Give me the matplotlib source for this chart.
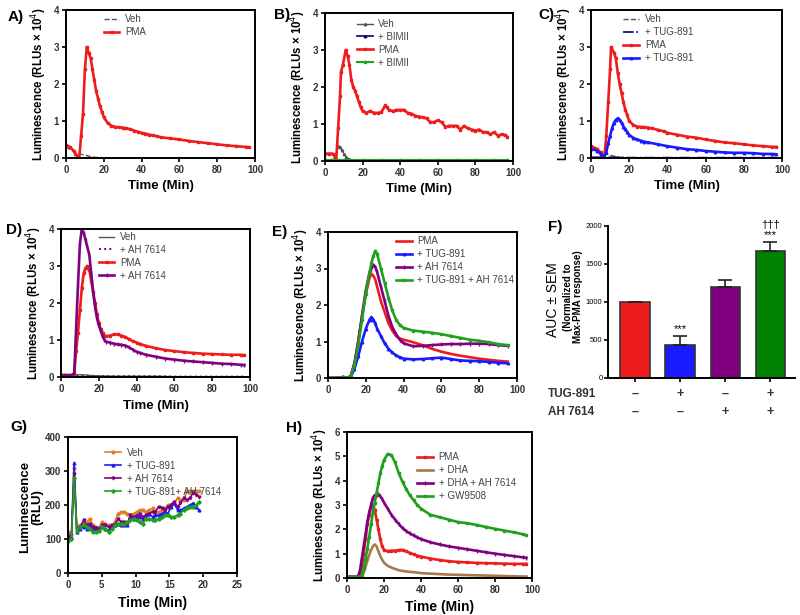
import matplotlib
matplotlib.use("Agg")
import matplotlib.pyplot as plt
import numpy as np

plt.rcParams['font.family'] = ['Liberation Sans', 'DejaVu Sans']

# ---------------- DATA ----------------
# Panel A
a_t_pma = [0, 2, 4, 5, 6, 7, 8, 9, 10, 11, 12, 13, 14, 15, 16, 17, 18, 19, 20, 22, 24, 26, 28, 30, 32, 34, 36, 38, 40, 42, 44, 46, 48, 50, 55, 60, 65, 70, 75, 80, 85, 90, 95, 97]
a_pma = [0.35, 0.3, 0.2, 0.1, 0.05, 0.0, 0.6, 1.2, 2.4, 3.0, 2.85, 2.7, 2.4, 2.1, 1.8, 1.6, 1.4, 1.25, 1.1, 0.95, 0.87, 0.84, 0.83, 0.82, 0.8, 0.78, 0.74, 0.71, 0.68, 0.66, 0.63, 0.61, 0.59, 0.56, 0.53, 0.5, 0.46, 0.43, 0.4, 0.37, 0.34, 0.32, 0.3, 0.29]
a_t_veh = [0, 3, 6, 8, 10, 12, 15, 20, 30, 40, 50, 60, 70, 80, 90, 97]
a_veh = [0.3, 0.2, 0.1, 0.1, 0.08, 0.05, 0.02, 0.0, 0.0, 0.0, 0.0, 0.0, 0.0, 0.0, 0.0, 0.0]

# Panel B
b_t_pma = [0, 2, 4, 5, 6, 7, 8, 8.5, 9.5, 11, 12, 13, 14, 15, 16, 17, 18, 19, 20, 22, 24, 26, 28, 30, 32, 33, 34, 36, 38, 40, 42, 44, 46, 48, 50, 52, 54, 56, 58, 60, 62, 64, 66, 68, 70, 72, 74, 76, 78, 80, 82, 84, 86, 88, 90, 92, 94, 96, 97]
b_pma = [0.2, 0.2, 0.2, 0.15, 0.05, 0.9, 1.75, 2.4, 2.6, 3.0, 2.85, 2.6, 2.2, 2.0, 1.9, 1.75, 1.6, 1.45, 1.35, 1.3, 1.35, 1.3, 1.3, 1.32, 1.5, 1.45, 1.38, 1.35, 1.38, 1.38, 1.38, 1.3, 1.28, 1.22, 1.2, 1.18, 1.15, 1.05, 1.05, 1.1, 1.05, 0.92, 0.95, 0.95, 0.95, 0.85, 0.95, 0.88, 0.85, 0.82, 0.85, 0.78, 0.78, 0.72, 0.78, 0.68, 0.72, 0.7, 0.65]
b_t_veh = [0, 5, 7, 8, 9, 10, 11, 13, 15, 20, 30, 40, 50, 60, 70, 80, 90, 97]
b_veh = [0.02, 0.05, 0.4, 0.38, 0.3, 0.2, 0.12, 0.05, 0.02, 0.01, 0.0, 0.0, 0.0, 0.0, 0.0, 0.0, 0.0, 0.0]
b_t_bim = [0, 10, 20, 30, 40, 50, 60, 70, 80, 90, 97]
b_bim_veh = [0.02, 0.02, 0.02, 0.02, 0.02, 0.02, 0.02, 0.02, 0.02, 0.02, 0.02]
b_bim_pma = [0.03, 0.03, 0.03, 0.03, 0.03, 0.03, 0.03, 0.03, 0.03, 0.03, 0.03]

# Panel C
c_t_pma = [0, 3, 5, 6, 7, 8, 9, 10, 10.5, 12, 13, 14, 15, 16, 17, 18, 19, 20, 22, 24, 26, 28, 30, 32, 35, 38, 40, 45, 50, 55, 60, 65, 70, 75, 80, 85, 90, 95, 97]
c_pma = [0.32, 0.25, 0.15, 0.05, 0.02, 0.6, 1.5, 2.4, 3.0, 2.85, 2.7, 2.3, 2.0, 1.75, 1.5, 1.3, 1.15, 1.0, 0.9, 0.85, 0.84, 0.83, 0.82, 0.8, 0.76, 0.72, 0.68, 0.63, 0.58, 0.55, 0.5, 0.46, 0.42, 0.4, 0.37, 0.34, 0.32, 0.3, 0.3]
c_t_tug = [0, 3, 5, 6, 7, 8, 9, 10, 11, 12, 13, 14, 15, 16, 17, 18, 19, 20, 22, 24, 26, 28, 30, 35, 40, 45, 50, 55, 60, 65, 70, 75, 80, 85, 90, 95, 97]
c_tug = [0.25, 0.2, 0.12, 0.05, 0.05, 0.15, 0.4, 0.6, 0.8, 0.95, 1.03, 1.07, 1.03, 0.95, 0.85, 0.78, 0.7, 0.62, 0.55, 0.5, 0.47, 0.44, 0.42, 0.37, 0.32, 0.28, 0.24, 0.22, 0.19, 0.17, 0.15, 0.14, 0.14, 0.13, 0.11, 0.11, 0.1]
c_t_veh = [0, 5, 8, 12, 15, 20, 30, 40, 50, 60, 70, 80, 90, 97]
c_veh = [0.3, 0.1, 0.1, 0.05, 0.02, 0.0, 0.0, 0.0, 0.0, 0.0, 0.01, 0.0, 0.0, 0.0]
c_veh_tug = [0.02, 0.02, 0.02, 0.02, 0.02, 0.01, 0.01, 0.01, 0.01, 0.01, 0.01, 0.01, 0.01, 0.01]

# Panel D
d_t_pma = [0, 2, 5, 6, 7, 8, 9, 10, 11, 12, 13, 14, 15, 16, 17, 18, 19, 20, 21, 22, 23, 24, 26, 28, 30, 32, 34, 36, 38, 40, 42, 45, 50, 55, 60, 65, 70, 75, 80, 85, 90, 95, 97]
d_pma = [0.05, 0.05, 0.05, 0.05, 0.1, 0.7, 1.2, 1.8, 2.4, 2.8, 2.95, 3.0, 2.9, 2.6, 2.3, 2.0, 1.7, 1.45, 1.3, 1.2, 1.12, 1.1, 1.12, 1.15, 1.15, 1.12, 1.08, 1.02, 0.97, 0.93, 0.89, 0.84, 0.78, 0.73, 0.7, 0.67, 0.65, 0.63, 0.62, 0.61, 0.6, 0.6, 0.59]
d_t_ah = [0, 6, 7, 8, 9, 10, 11, 12, 13, 14, 15, 16, 17, 18, 19, 20, 21, 22, 23, 24, 26, 28, 30, 32, 34, 36, 38, 40, 42, 45, 50, 55, 60, 65, 70, 75, 80, 85, 90, 95, 97]
d_ah = [0.05, 0.05, 0.1, 1.3, 2.5, 3.6, 4.0, 3.9, 3.7, 3.5, 3.3, 2.8, 2.3, 1.9, 1.6, 1.4, 1.25, 1.1, 1.0, 0.95, 0.93, 0.9, 0.88, 0.87, 0.85, 0.8, 0.74, 0.68, 0.65, 0.6, 0.55, 0.5, 0.47, 0.44, 0.42, 0.4, 0.38, 0.36, 0.35, 0.33, 0.32]
d_t_veh = [0, 5, 8, 12, 16, 20, 30, 40, 50, 60, 70, 80, 90, 97]
d_veh = [0.02, 0.02, 0.06, 0.06, 0.04, 0.03, 0.02, 0.02, 0.02, 0.01, 0.01, 0.01, 0.01, 0.01]
d_veh_ah = [0.01, 0.01, 0.03, 0.03, 0.02, 0.02, 0.02, 0.02, 0.02, 0.01, 0.01, 0.01, 0.01, 0.01]

# Panel E
e_t = [0, 5, 8, 10, 12, 14, 16, 18, 20, 22, 23, 24, 25, 26, 28, 30, 32, 34, 36, 38, 40, 45, 50, 55, 60, 65, 70, 75, 80, 85, 90, 95]
e_pma = [0.0, 0.0, 0.02, 0.0, 0.05, 0.4, 1.0, 1.7, 2.3, 2.75, 2.85, 2.8, 2.7, 2.5, 2.1, 1.8, 1.5, 1.3, 1.15, 1.08, 1.05, 0.98, 0.9, 0.8, 0.72, 0.66, 0.61, 0.57, 0.53, 0.5, 0.47, 0.45]
e_tug = [0.0, 0.0, 0.03, 0.0, 0.02, 0.25, 0.6, 1.0, 1.35, 1.6, 1.67, 1.6, 1.5, 1.35, 1.15, 0.95, 0.8, 0.7, 0.62, 0.57, 0.53, 0.51, 0.52, 0.54, 0.56, 0.52, 0.48, 0.47, 0.46, 0.44, 0.42, 0.4]
e_ah = [0.0, 0.0, 0.02, 0.0, 0.05, 0.4, 1.0, 1.7, 2.4, 2.9, 3.0, 3.1, 3.05, 2.9, 2.5, 2.1, 1.7, 1.4, 1.2, 1.05, 0.95, 0.87, 0.88, 0.9, 0.92, 0.93, 0.93, 0.94, 0.94, 0.93, 0.9, 0.88]
e_both = [0.0, 0.0, 0.02, 0.0, 0.05, 0.35, 0.9, 1.6, 2.3, 2.9, 3.15, 3.35, 3.48, 3.4, 3.0, 2.6, 2.2, 1.85, 1.6, 1.45, 1.37, 1.3, 1.27, 1.24, 1.2, 1.15, 1.1, 1.05, 1.02, 0.98, 0.93, 0.9]

# Panel F
f_auc = [1000, 430, 1195, 1670]
f_sem = [0, 120, 95, 125]
f_tug = ['–', '+', '–', '+']
f_ah = ['–', '–', '+', '+']
f_sig = ['', '***', '', '†††\n***']

# Panel G
g_t = [0, 0.5, 0.9, 1.3, 1.8, 2.3, 2.8, 3.2, 3.7, 4.1, 4.6, 5.1, 5.5, 6.0, 6.5, 6.9, 7.4, 7.9, 8.3, 8.8, 9.2, 9.7, 10.2, 10.6, 11.1, 11.5, 12.0, 12.5, 12.9, 13.4, 13.9, 14.3, 14.8, 15.2, 15.7, 16.2, 16.6, 17.1, 17.6, 18.0, 18.5, 19.0, 19.4]
g_veh = [120, 115, 310, 135, 140, 145, 150, 160, 140, 130, 135, 150, 145, 140, 135, 150, 175, 180, 180, 175, 170, 175, 180, 185, 185, 180, 185, 190, 175, 180, 185, 190, 200, 200, 205, 220, 215, 215, 240, 240, 240, 240, 240]
g_tug = [100, 105, 325, 120, 130, 135, 130, 140, 130, 135, 130, 135, 130, 125, 135, 140, 145, 140, 140, 140, 165, 160, 170, 165, 160, 170, 175, 165, 170, 170, 175, 180, 175, 195, 205, 185, 185, 190, 195, 200, 205, 195, 185]
g_ah = [110, 100, 290, 130, 135, 155, 140, 145, 135, 130, 130, 140, 140, 135, 140, 140, 160, 150, 150, 145, 170, 165, 160, 175, 165, 170, 175, 180, 180, 195, 190, 185, 195, 200, 210, 195, 205, 220, 215, 220, 235, 230, 225]
g_both = [95, 100, 280, 125, 135, 140, 135, 130, 120, 120, 125, 135, 130, 120, 130, 140, 145, 145, 145, 150, 155, 160, 155, 150, 145, 160, 160, 155, 155, 160, 165, 170, 170, 165, 165, 170, 175, 185, 190, 195, 195, 200, 210]

# Panel H
h_t = [0, 5, 6, 7, 8, 9, 10, 11, 12, 13, 14, 15, 16, 17, 18, 19, 20, 22, 24, 26, 28, 30, 32, 34, 36, 38, 40, 45, 50, 55, 60, 65, 70, 75, 80, 85, 90, 95, 97]
h_pma = [0.05, 0.05, 0.05, 0.1, 0.5, 1.0, 1.6, 2.2, 2.6, 2.9, 3.0, 2.8, 2.4, 2.0, 1.6, 1.3, 1.15, 1.1, 1.12, 1.12, 1.15, 1.15, 1.1, 1.03, 0.97, 0.92, 0.88, 0.8, 0.74, 0.69, 0.66, 0.64, 0.62, 0.61, 0.6, 0.59, 0.58, 0.58, 0.58]
h_dha = [0.03, 0.03, 0.03, 0.03, 0.05, 0.2, 0.45, 0.7, 0.95, 1.15, 1.3, 1.38, 1.3, 1.1, 0.9, 0.75, 0.63, 0.5, 0.43, 0.37, 0.32, 0.29, 0.27, 0.25, 0.24, 0.22, 0.2, 0.18, 0.16, 0.14, 0.13, 0.12, 0.11, 0.1, 0.09, 0.08, 0.07, 0.06, 0.06]
h_dha_ah = [0.05, 0.05, 0.08, 0.3, 0.8, 1.3, 1.8, 2.3, 2.7, 3.0, 3.3, 3.4, 3.42, 3.45, 3.35, 3.25, 3.1, 2.85, 2.6, 2.4, 2.22, 2.05, 1.93, 1.83, 1.75, 1.67, 1.6, 1.47, 1.38, 1.3, 1.24, 1.18, 1.12, 1.06, 1.0, 0.95, 0.9, 0.85, 0.83]
h_gw = [0.05, 0.05, 0.05, 0.05, 0.1, 0.4, 0.8, 1.2, 1.7, 2.2, 2.7, 3.1, 3.5, 3.9, 4.3, 4.6, 4.85, 5.1, 5.05, 4.75, 4.3, 3.95, 3.65, 3.4, 3.2, 3.0, 2.85, 2.6, 2.5, 2.4, 2.3, 2.25, 2.18, 2.1, 2.02, 1.95, 1.88, 1.8, 1.75]

# ---------------- STYLE ----------------
RED = '#ee1c1c'
BLUE = '#1a1aff'
PURPLE = '#800080'
GREEN = '#1fa01f'
NAVY = '#000080'
GRAY = '#555555'
BROWN = '#a8784a'
ORANGE = '#d9822b'
YLAB = 'Luminescence (RLUs × 10$^4$)'

fig = plt.figure(figsize=(8.0, 6.15), dpi=100)


def add_ax(l, t, r, b):
    return fig.add_axes([l / 800, 1 - b / 615, (r - l) / 800, (b - t) / 615])


def style(ax, xlim, ylim, xticks, yticks, box=True):
    ax.set_xlim(*xlim)
    ax.set_ylim(*ylim)
    ax.set_xticks(xticks)
    ax.set_yticks(yticks)
    for s in ax.spines.values():
        s.set_linewidth(1.4)
    if not box:
        ax.spines['top'].set_visible(False)
        ax.spines['right'].set_visible(False)
    ax.tick_params(direction='out', length=3, width=1.2, labelsize=7, pad=2)
    for lab in ax.get_xticklabels() + ax.get_yticklabels():
        lab.set_fontweight('bold')
        lab.set_color('#333333')


def legend(ax, x, y):
    ax.legend(loc='upper left', bbox_to_anchor=(x, y), frameon=False, fontsize=7,
              handlelength=1.6, handletextpad=0.6, labelspacing=0.3,
              borderaxespad=0, borderpad=0, labelcolor='#444444')


def label(x, y, s):
    fig.text(x / 800, 1 - y / 615, s, fontsize=11, fontweight='bold', ha='left', va='center')


def ylab(ax, s=YLAB, size=8.3):
    ax.set_ylabel(s, fontsize=size, fontweight='bold', labelpad=3)


def xlab(ax, size=9.5):
    ax.set_xlabel('Time (Min)', fontsize=size, fontweight='bold', labelpad=4)


lw = 1.9
ms = 1.8

# A
ax = add_ax(66, 10, 255, 158)
ax.plot(a_t_veh, a_veh, '--', color=GRAY, lw=1.0, label='Veh')
ax.plot(a_t_pma, a_pma, '-s', color=RED, lw=lw, ms=ms, label='PMA')
style(ax, (0, 100), (0, 4), [0, 20, 40, 60, 80, 100], [0, 1, 2, 3, 4])
legend(ax, 0.2, 0.97)
ylab(ax)
xlab(ax)
label(8, 17, 'A)')

# B
ax = add_ax(325, 13, 513, 161)
ax.plot(b_t_veh, b_veh, '-^', color=GRAY, lw=1.0, ms=1.8, label='Veh')
ax.plot(b_t_bim, b_bim_veh, '-^', color=NAVY, lw=1.2, ms=1.8, label='+ BIMII')
ax.plot(b_t_pma, b_pma, '-s', color=RED, lw=lw, ms=ms, label='PMA')
ax.plot(b_t_bim, b_bim_pma, '-s', color=GREEN, lw=1.5, ms=1.8, label='+ BIMII')
style(ax, (0, 100), (0, 4), [0, 20, 40, 60, 80, 100], [0, 1, 2, 3, 4])
legend(ax, 0.17, 0.96)
ylab(ax)
xlab(ax)
label(274, 15, 'B)')

# C
ax = add_ax(591, 10, 782, 158)
ax.plot(c_t_veh, c_veh, '--', color=GRAY, lw=1.0, label='Veh')
ax.plot(c_t_veh, c_veh_tug, '-.', color=NAVY, lw=1.2, label='+ TUG-891')
ax.plot(c_t_pma, c_pma, '-s', color=RED, lw=lw, ms=ms, label='PMA')
ax.plot(c_t_tug, c_tug, '-^', color=BLUE, lw=lw, ms=1.8, label='+ TUG-891')
style(ax, (0, 100), (0, 4), [0, 20, 40, 60, 80, 100], [0, 1, 2, 3, 4])
legend(ax, 0.17, 0.97)
ylab(ax)
xlab(ax)
label(538, 15, 'C)')

# D
ax = add_ax(61, 229, 250, 377)
ax.plot(d_t_veh, d_veh, '-', color=GRAY, lw=1.0, label='Veh')
ax.plot(d_t_veh, d_veh_ah, ':', color=PURPLE, lw=1.4, label='+ AH 7614')
ax.plot(d_t_pma, d_pma, '-s', color=RED, lw=lw, ms=ms, label='PMA')
ax.plot(d_t_ah, d_ah, '-|', color=PURPLE, lw=lw, ms=2.5, label='+ AH 7614')
style(ax, (0, 100), (0, 4), [0, 20, 40, 60, 80, 100], [0, 1, 2, 3, 4])
legend(ax, 0.2, 0.98)
ylab(ax)
xlab(ax)
label(6, 230, 'D)')

# E
ax = add_ax(328, 232, 517, 378)
ax.plot(e_t, e_pma, '-', color=RED, lw=lw, label='PMA')
ax.plot(e_t, e_tug, '-^', color=BLUE, lw=lw, ms=1.8, label='+ TUG-891')
ax.plot(e_t, e_ah, '-|', color=PURPLE, lw=lw, ms=2.5, label='+ AH 7614')
ax.plot(e_t, e_both, '-s', color=GREEN, lw=lw, ms=1.4, label='+ TUG-891 + AH 7614')
style(ax, (0, 100), (0, 4), [0, 20, 40, 60, 80, 100], [0, 1, 2, 3, 4])
legend(ax, 0.36, 0.97)
ylab(ax)
label(272, 232, 'E)')

# F
ax = add_ax(608, 226, 795, 378)
xpos = np.arange(4)
cols = [RED, BLUE, PURPLE, '#008000']
ax.bar(xpos, f_auc, width=0.65, color=cols, edgecolor='#333333', linewidth=1.2,
       yerr=[[0] * 4, f_sem], capsize=5, error_kw=dict(elinewidth=1.2, capthick=1.2, ecolor='#222222'))
for i in range(4):
    if f_sig[i]:
        ax.text(xpos[i], f_auc[i] + f_sem[i] + 25, f_sig[i], ha='center', va='bottom',
                fontsize=8, linespacing=0.9)
ax.set_xlim(-0.6, 3.55)
ax.set_ylim(0, 2000)
ax.set_xticks(xpos)
ax.set_xticklabels([])
ax.set_yticks([0, 500, 1000, 1500, 2000])
for s in ax.spines.values():
    s.set_linewidth(1.4)
ax.spines['top'].set_visible(False)
ax.spines['right'].set_visible(False)
ax.tick_params(direction='out', length=3, width=1.2, labelsize=5.5, pad=1)
fig.text(553 / 800, 1 - 300 / 615, 'AUC ± SEM', rotation=90, ha='center', va='center', fontsize=10)
fig.text(573 / 800, 1 - 297 / 615, '(Normalized to\nMax-PMA response)', rotation=90,
         ha='center', va='center', fontsize=7, fontweight='bold', linespacing=1.0)
for i in range(4):
    ax.text(xpos[i], -0.105, f_tug[i], transform=ax.get_xaxis_transform(), ha='center', va='center',
            fontsize=9, fontweight='bold', color='#333333')
    ax.text(xpos[i], -0.225, f_ah[i], transform=ax.get_xaxis_transform(), ha='center', va='center',
            fontsize=9, fontweight='bold', color='#333333')
fig.text(548 / 800, 1 - 394 / 615, 'TUG-891', fontsize=8.5, fontweight='bold', va='center', color='#333333')
fig.text(548 / 800, 1 - 412 / 615, 'AH 7614', fontsize=8.5, fontweight='bold', va='center', color='#333333')
label(548, 227, 'F)')

# G
ax = add_ax(68, 437, 237, 573)
ax.plot(g_t, g_veh, '-o', color=ORANGE, lw=1.2, ms=2.0, label='Veh')
ax.plot(g_t, g_tug, '-^', color=BLUE, lw=1.2, ms=2.0, label='+ TUG-891')
ax.plot(g_t, g_ah, '-v', color=PURPLE, lw=1.2, ms=2.0, label='+ AH 7614')
ax.plot(g_t, g_both, '-D', color=GREEN, lw=1.2, ms=1.8, label='+ TUG-891+ AH 7614')
style(ax, (0, 25), (0, 400), [0, 5, 10, 15, 20, 25], [0, 100, 200, 300, 400])
legend(ax, 0.22, 0.92)
fig.text(31 / 800, 1 - 507 / 615, 'Luminescence\n(RLU)', rotation=90, ha='center', va='center',
         fontsize=9.5, fontweight='bold', linespacing=1.0)
xlab(ax, 10)
label(10, 427, 'G)')

# H
ax = add_ax(347, 432, 532, 578)
ax.plot(h_t, h_pma, '-s', color=RED, lw=lw, ms=ms, label='PMA')
ax.plot(h_t, h_dha, '-', color=BROWN, lw=lw, label='+ DHA')
ax.plot(h_t, h_dha_ah, '-|', color=PURPLE, lw=lw, ms=2.5, label='+ DHA + AH 7614')
ax.plot(h_t, h_gw, '-s', color=GREEN, lw=lw, ms=1.8, label='+ GW9508')
style(ax, (0, 100), (0, 6), [0, 20, 40, 60, 80, 100], [0, 1, 2, 3, 4, 5, 6])
legend(ax, 0.38, 0.86)
ylab(ax)
xlab(ax, 10)
label(286, 428, 'H)')

fig.savefig('out.png', dpi=100)
